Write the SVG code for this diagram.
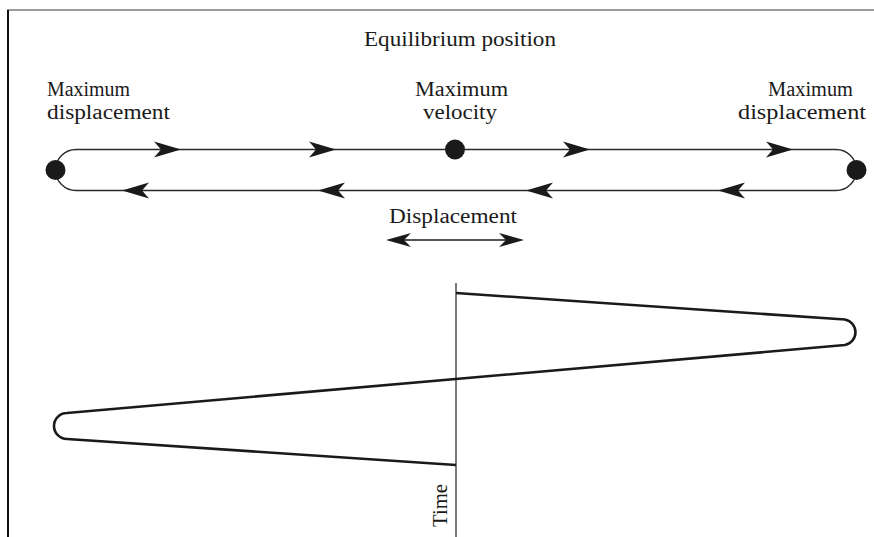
<svg xmlns="http://www.w3.org/2000/svg" xmlns:xlink="http://www.w3.org/1999/xlink" width="874" height="537" viewBox="0 0 874 537">
<style>
text{font-family:"Liberation Serif","Times New Roman",serif;font-size:20.5px;fill:#1a1a1a}
.track{fill:none;stroke:#2a2a2a;stroke-width:1.4}
.curve{fill:none;stroke:#1a1a1a;stroke-width:2.6;stroke-linejoin:round}
.dot{fill:#1a1a1a}
.ah{fill:#1a1a1a}
</style>
<defs>
<path id="ah" class="ah" d="M0,0 L-27,-8 L-20,0 L-27,8 Z"/>
<path id="ahs" class="ah" d="M0,0 L-25,-7 L-18,0 L-25,7 Z"/>
</defs>
<g id="frame">
<line x1="7" y1="10" x2="874" y2="10" stroke="#7a7a7a" stroke-width="1.6"/>
<line x1="8" y1="10" x2="8" y2="537" stroke="#111" stroke-width="2"/>
</g>
<g id="connectors">
<path class="track" d="M76,149.5 L836,149.5 A20.5,20.5 0 0 1 836,190.5 L76,190.5 A20.5,20.5 0 0 1 76,149.5 Z"/>
<use xlink:href="#ah" transform="translate(181,149.5)"/>
<use xlink:href="#ah" transform="translate(336,149.5)"/>
<use xlink:href="#ah" transform="translate(590,149.5)"/>
<use xlink:href="#ah" transform="translate(793,149.5)"/>
<use xlink:href="#ah" transform="translate(122,190.5) rotate(180)"/>
<use xlink:href="#ah" transform="translate(318,190.5) rotate(180)"/>
<use xlink:href="#ah" transform="translate(526,190.5) rotate(180)"/>
<use xlink:href="#ah" transform="translate(718,190.5) rotate(180)"/>
<line x1="400" y1="240" x2="510" y2="240" stroke="#1a1a1a" stroke-width="1.4"/>
<use xlink:href="#ahs" transform="translate(386,240) rotate(180)"/>
<use xlink:href="#ahs" transform="translate(524,240)"/>
<line x1="456" y1="283" x2="456" y2="537" stroke="#555" stroke-width="1.6"/>
<path class="curve" d="M456,293 L845,319.5 A13,13 0 0 1 845,345 L67,413 A13,13 0 0 0 67,439 L456,465"/>
</g>
<g id="equilibrium-label"><text x="364" y="46" textLength="192" lengthAdjust="spacingAndGlyphs">Equilibrium position</text></g>
<g id="left-max">
<circle class="dot" cx="55.5" cy="170" r="10"/>
<text x="47" y="96" textLength="83" lengthAdjust="spacingAndGlyphs">Maximum</text>
<text x="47" y="119" textLength="123" lengthAdjust="spacingAndGlyphs">displacement</text>
</g>
<g id="center-vel">
<circle class="dot" cx="455" cy="149.5" r="10"/>
<text x="415" y="96" textLength="93" lengthAdjust="spacingAndGlyphs">Maximum</text>
<text x="423" y="119" textLength="74" lengthAdjust="spacingAndGlyphs">velocity</text>
</g>
<g id="right-max">
<circle class="dot" cx="856.5" cy="170" r="10"/>
<text x="768" y="96" textLength="85" lengthAdjust="spacingAndGlyphs">Maximum</text>
<text x="738" y="119" textLength="128" lengthAdjust="spacingAndGlyphs">displacement</text>
</g>
<g id="displacement-label"><text x="389" y="223" textLength="128" lengthAdjust="spacingAndGlyphs">Displacement</text></g>
<g id="time-label"><text transform="translate(447,527) rotate(-90)" x="0" y="0" textLength="43" lengthAdjust="spacingAndGlyphs">Time</text></g>
</svg>
